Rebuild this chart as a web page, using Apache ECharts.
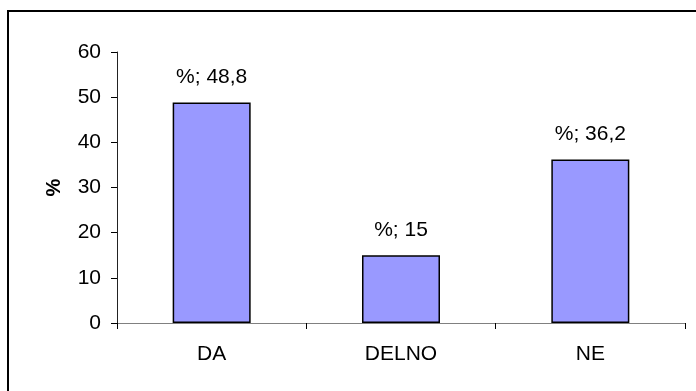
<!DOCTYPE html>
<html>
<head>
<meta charset="utf-8">
<script src="https://cdn.jsdelivr.net/npm/echarts@6/dist/echarts.min.js"></script>
<style>
  html, body { margin: 0; padding: 0; background: #fff; }
  #chart { width: 696px; height: 391px; }
</style>
</head>
<body>
<div id="chart"></div>
<script>
// Answer categories and their share in percent
const categories = ['DA', 'DELNO', 'NE'];
const percentValues = [48.8, 15, 36.2];
const seriesName = '%';
const yTicks = { min: 0, max: 60, step: 10 };

const chart = echarts.init(document.getElementById('chart'), null, { renderer: 'canvas' });
const font = '"Liberation Sans", Arial, sans-serif';

chart.setOption({
  animation: false,
  backgroundColor: '#ffffff',
  graphic: [{
    type: 'rect',
    shape: { x: 8, y: 11, width: 720, height: 420 },
    style: { fill: 'none', stroke: '#000', lineWidth: 2 },
    silent: true
  }],
  grid: { left: 117, top: 52, right: 11, bottom: 68, containLabel: false },
  xAxis: {
    type: 'category',
    data: categories,
    axisLine: { lineStyle: { color: '#808080', width: 1 } },
    axisTick: { show: true, length: 6, lineStyle: { color: '#000' } },
    axisLabel: { color: '#000', fontFamily: font, fontSize: 21, margin: 21 }
  },
  yAxis: {
    type: 'value',
    name: seriesName,
    nameLocation: 'middle',
    nameGap: 53,
    nameRotate: 90,
    nameTextStyle: { color: '#000', fontFamily: font, fontSize: 20, fontWeight: 'bold' },
    min: yTicks.min,
    max: yTicks.max,
    interval: yTicks.step,
    axisLine: { show: true, lineStyle: { color: '#222', width: 1 } },
    axisTick: { show: true, length: 6, lineStyle: { color: '#000' } },
    axisLabel: { color: '#000', fontFamily: font, fontSize: 21, margin: 16 },
    splitLine: { show: false }
  },
  series: [{
    type: 'bar',
    name: seriesName,
    data: percentValues,
    barWidth: 78,
    itemStyle: { color: '#9999ff', borderColor: '#000', borderWidth: 1.5 },
    label: {
      show: true,
      position: 'top',
      distance: 15,
      color: '#000',
      fontFamily: font,
      fontSize: 21,
      formatter: p => seriesName + '; ' + String(p.value).replace('.', ',')
    }
  }]
});
</script>
</body>
</html>
